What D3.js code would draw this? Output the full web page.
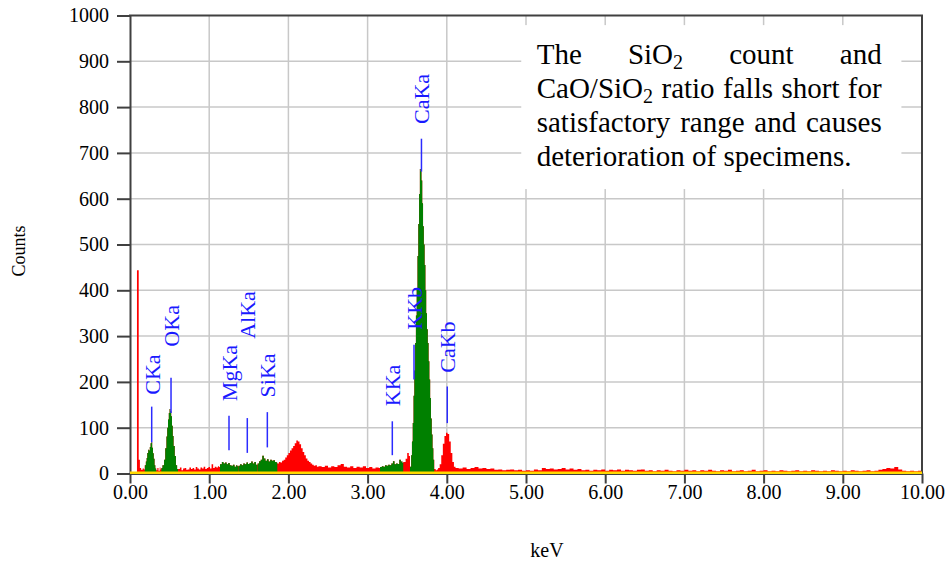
<!DOCTYPE html>
<html><head><meta charset="utf-8">
<script src="https://cdn.jsdelivr.net/npm/d3@7"></script>
<style>
body{margin:0;background:#fff}
svg{display:block}
text{font-family:"Liberation Serif","Times New Roman",serif}
</style>
</head><body>
<svg id="c" width="949" height="563"></svg>
<script>
// ---------- DATA ----------
const xTicks = [0,1,2,3,4,5,6,7,8,9,10];
const xTickLabels = ["0.00","1.00","2.00","3.00","4.00","5.00","6.00","7.00","8.00","9.00","10.00"];
const yTicks = [0,100,200,300,400,500,600,700,800,900,1000];
const yTickLabels = ["0","100","200","300","400","500","600","700","800","900","1000"];
const xTitle = "keV";
const yTitle = "Counts";

// spectrum: [keV, counts] (channel start energy, count)
const spectrum = [
 [0,0],[0.088,444],[0.11,30],[0.125,12],[0.14,8],[0.16,11],[0.175,9],
 [0.186,18],[0.20,26],[0.21,34],[0.218,45],[0.23,52],[0.24,50],[0.25,58],[0.26,66],[0.27,68],[0.28,56],[0.29,44],[0.30,32],[0.31,18],[0.32,11],[0.332,7],
 [0.345,12],[0.36,6],[0.375,13],[0.385,9],
 [0.395,12],[0.41,18],[0.43,30],[0.445,55],[0.46,81],[0.47,100],[0.48,118],[0.49,132],[0.50,141],[0.51,136],[0.52,125],[0.53,104],[0.54,82],[0.55,60],[0.565,38],[0.58,18],[0.595,10],
 [0.61,10],[0.63,13],[0.65,7],[0.67,11],[0.69,12],[0.71,8],[0.73,9],[0.75,13],[0.77,10],[0.79,12],[0.81,9],[0.83,14],[0.85,11],[0.87,9],[0.89,13],[0.91,11],[0.93,15],[0.95,10],[0.97,12],[0.99,14],[1.01,11],[1.03,20],[1.05,12],[1.07,15],[1.09,13],[1.11,16],[1.125,14],
 [1.136,20],[1.16,25],[1.18,22],[1.20,24],[1.22,20],[1.24,23],[1.26,18],[1.28,17],[1.30,19],[1.32,15],[1.34,18],[1.355,16],
 [1.37,17],[1.39,20],[1.41,18],[1.43,22],[1.45,20],[1.47,24],[1.49,21],[1.51,23],[1.53,26],[1.55,22],[1.57,25],[1.59,19],
 [1.61,22],[1.63,27],[1.65,30],[1.67,39],[1.69,33],[1.71,28],[1.73,31],[1.75,26],[1.77,30],[1.79,28],[1.81,29],[1.83,25],[1.85,24],
 [1.86,22],[1.88,25],[1.90,24],[1.92,28],[1.94,30],[1.96,35],[1.98,40],[2.00,45],[2.02,50],[2.04,55],[2.06,60],[2.08,66],[2.10,72],[2.12,70],[2.14,64],[2.16,55],[2.18,47],[2.20,40],[2.22,33],[2.24,28],[2.26,25],[2.28,22],[2.30,19],[2.32,17],[2.34,18],[2.36,15],
 [2.38,16],[2.42,14],[2.46,17],[2.50,13],[2.54,16],[2.58,14],[2.62,18],[2.66,21],[2.70,15],[2.74,13],[2.78,16],[2.82,12],[2.86,15],[2.90,13],[2.94,16],[2.98,12],[3.02,14],[3.06,11],[3.10,13],[3.14,12],
 [3.157,14],[3.18,16],[3.20,15],[3.22,18],[3.24,17],[3.26,19],[3.28,18],[3.30,22],[3.32,27],[3.34,20],[3.36,22],[3.38,21],[3.40,30],[3.42,26],[3.44,23],
 [3.45,25],[3.48,32],[3.50,45],[3.52,38],
 [3.535,15],[3.55,40],[3.56,70],[3.57,110],[3.58,170],[3.59,225],[3.60,285],[3.61,345],[3.62,405],[3.63,475],[3.64,545],[3.65,610],[3.66,665],[3.67,660],[3.68,640],[3.69,590],[3.70,540],[3.71,500],[3.72,455],[3.73,400],[3.74,350],[3.75,315],[3.76,285],[3.77,245],[3.78,205],[3.79,165],[3.80,120],[3.81,85],[3.82,55],[3.83,30],
 [3.842,10],[3.86,7],[3.875,9],[3.89,12],[3.91,20],[3.93,40],[3.95,65],[3.97,82],[3.99,89],[4.01,86],[4.03,70],[4.05,45],[4.07,25],[4.09,15],[4.11,12],
 [4.15,11],[4.20,13],[4.25,10],[4.30,12],[4.35,14],[4.40,11],[4.45,12],[4.50,10],[4.55,11],[4.60,8],[4.65,9],[4.70,7],[4.75,8],[4.80,9],[4.85,7],[4.90,8],[4.95,6],[5.00,7],[5.05,6],[5.10,9],[5.15,7],[5.20,12],[5.25,10],[5.30,11],[5.35,9],[5.40,10],[5.45,12],[5.50,9],[5.55,11],[5.60,8],[5.65,10],[5.70,7],[5.75,8],[5.80,6],[5.85,8],[5.90,7],[5.95,9],
 [6.00,6],[6.05,8],[6.10,7],[6.15,9],[6.20,6],[6.25,8],[6.30,7],[6.35,6],[6.40,8],[6.45,9],[6.50,6],[6.55,7],[6.60,5],[6.65,7],[6.70,6],[6.75,8],[6.80,6],[6.85,5],[6.90,7],[6.95,6],
 [7.00,8],[7.05,6],[7.10,7],[7.15,5],[7.20,7],[7.25,6],[7.30,8],[7.35,6],[7.40,5],[7.45,7],[7.50,6],[7.55,8],[7.60,5],[7.65,6],[7.70,7],[7.75,5],[7.80,6],[7.85,8],[7.90,5],[7.95,6],
 [8.00,7],[8.05,5],[8.10,6],[8.15,5],[8.20,7],[8.25,6],[8.30,5],[8.35,6],[8.40,7],[8.45,5],[8.50,6],[8.55,5],[8.60,7],[8.65,6],[8.70,5],[8.75,6],[8.80,5],[8.85,7],[8.90,6],[8.95,5],
 [9.00,6],[9.05,5],[9.10,7],[9.15,6],[9.20,5],[9.25,6],[9.30,7],[9.35,5],[9.40,6],[9.45,8],[9.50,10],[9.55,12],[9.60,11],[9.65,14],[9.70,9],[9.75,6],[9.80,5],[9.85,6],[9.90,5],[9.95,6],[10.00,5]
];

// regions of interest drawn in green [start keV, end keV]
const roiRanges = [[0.186,0.332],[0.395,0.606],[1.136,1.366],[1.37,1.605],[1.61,1.86],[3.157,3.45],[3.535,3.842]];

// background series (yellow)
const background = [[0,1.5],[10,1.5]];

// peak markers
const markerNames  = ["CKa","OKa","MgKa","AlKa","SiKa","KKa","KKb","CaKa","CaKb"];
const markerKeV    = [0.274,0.518,1.25,1.481,1.734,3.312,3.586,3.68,4.006];
const markerTop    = [146,209,126,121,134,114,281,731,190];
const markerBottom = [68,132,51,45,57,40,205,659,110];
const labelBase    = [172,277,158,294,166,147,314,763,220];

// annotation
const noteLines = ["The SiO_2 count and","CaO/SiO_2 ratio falls short for","satisfactory range and causes","deterioration of specimens."];

// ---------- DRAW ----------
const FONT = '"Liberation Serif","Times New Roman",serif';
const svg = d3.select("#c");
const x = d3.scaleLinear().domain([0,10]).range([130,922]);
const y = d3.scaleLinear().domain([0,1000]).range([473.5,15.5]);
const axisColor = "#404040";

// grid
svg.append("g").selectAll("line").data(xTicks.slice(1,-1)).join("line")
  .attr("x1",d=>x(d)).attr("x2",d=>x(d)).attr("y1",y(0)).attr("y2",y(1000))
  .attr("stroke","#c8c8c8").attr("stroke-width",1.5);
svg.append("g").selectAll("line").data(yTicks.slice(1,-1)).join("line")
  .attr("y1",d=>y(d)).attr("y2",d=>y(d)).attr("x1",x(0)).attr("x2",x(10))
  .attr("stroke","#c8c8c8").attr("stroke-width",1.5);

// note box
svg.append("rect").attr("x",x(4.94)).attr("y",y(979)).attr("width",x(9.74)-x(4.94)).attr("height",y(621)-y(979)).attr("fill","#fff");

// spectrum
const area = d3.area().x(d=>x(d[0])).y0(y(0)).y1(d=>y(d[1])).curve(d3.curveStepAfter);
svg.append("path").datum(spectrum).attr("d",area).attr("fill","#ff0000");

const defs = svg.append("defs");
const cp = defs.append("clipPath").attr("id","roi");
cp.selectAll("rect").data(roiRanges).join("rect")
  .attr("x",d=>x(d[0])).attr("width",d=>x(d[1])-x(d[0])).attr("y",0).attr("height",563);
svg.append("path").datum(spectrum).attr("d",area).attr("fill","#008000").attr("clip-path","url(#roi)");

// axes
const yAxis = d3.axisLeft(y).tickValues(yTicks).tickFormat((d,i)=>yTickLabels[i]).tickSize(13).tickPadding(8).tickSizeOuter(0);
const gy = svg.append("g").attr("transform",`translate(${x(0)},0)`).call(yAxis);
const xAxis = d3.axisBottom(x).tickValues(xTicks).tickFormat((d,i)=>xTickLabels[i]).tickSize(10).tickPadding(1).tickSizeOuter(0);
const gx = svg.append("g").attr("transform",`translate(0,${y(0)})`).call(xAxis);
[gx,gy].forEach(g=>{
  g.attr("font-family",FONT);
  g.selectAll("path,line").attr("stroke",axisColor).attr("stroke-width",2);
  g.selectAll("text").attr("font-size",20).attr("fill","#000").style("font-family",FONT);
});
// frame top/right
svg.append("line").attr("x1",x(0)-1).attr("x2",x(10)+1).attr("y1",y(1000)).attr("y2",y(1000)).attr("stroke",axisColor).attr("stroke-width",2);
svg.append("line").attr("x1",x(10)).attr("x2",x(10)).attr("y1",y(1000)).attr("y2",y(0)).attr("stroke",axisColor).attr("stroke-width",2);

// background yellow
svg.append("path").datum(background).attr("d",d3.line().x(d=>x(d[0])).y(d=>y(d[1])))
  .attr("stroke","#ffd800").attr("stroke-width",2.5).attr("fill","none");

// markers
const mk = svg.append("g");
markerNames.forEach((n,i)=>{
  mk.append("line").attr("x1",x(markerKeV[i])).attr("x2",x(markerKeV[i]))
    .attr("y1",y(markerTop[i])).attr("y2",y(markerBottom[i]))
    .attr("stroke","#2b2bff").attr("stroke-width",1.5);
  const lx = x(markerKeV[i])+8, ly = y(labelBase[i]);
  mk.append("text").attr("transform",`translate(${lx},${ly}) rotate(-90)`)
    .attr("font-size",22).attr("fill","#1a1aff").style("font-family",FONT).text(n);
});

// axis titles
svg.append("text").attr("transform","translate(25,251) rotate(-90)").attr("text-anchor","middle")
  .attr("font-size",18).style("font-family",FONT).text(yTitle);
svg.append("text").attr("x",547).attr("y",557).attr("text-anchor","middle").attr("font-size",20).style("font-family",FONT).text(xTitle);

// annotation, justified
const noteLeft = 536.7, noteRight = 881.7, noteBase = [63.5,97.5,131.5,165.5];
const ng = svg.append("g");
noteLines.forEach((line,li)=>{
  const words = line.split(" ");
  const els = words.map(w=>{
    const t = ng.append("text").attr("y",noteBase[li]).attr("font-size",29).attr("fill","#000").style("font-family",FONT);
    w.split("_").forEach((seg,si)=>{
      if(si===0){ t.append("tspan").text(seg); }
      else {
        t.append("tspan").attr("font-size",20).attr("dy",5).text(seg[0]);
        if(seg.length>1) t.append("tspan").attr("dy",-5).text(seg.slice(1));
      }
    });
    return t;
  });
  const widths = els.map(e=>e.node().getComputedTextLength());
  const total = d3.sum(widths);
  const last = li===noteLines.length-1;
  const gap = last ? 29*0.25 : (noteRight-noteLeft-total)/(words.length-1);
  let cx = noteLeft;
  els.forEach((e,i)=>{ e.attr("x",cx); cx += widths[i]+gap; });
});
</script>
</body></html>
